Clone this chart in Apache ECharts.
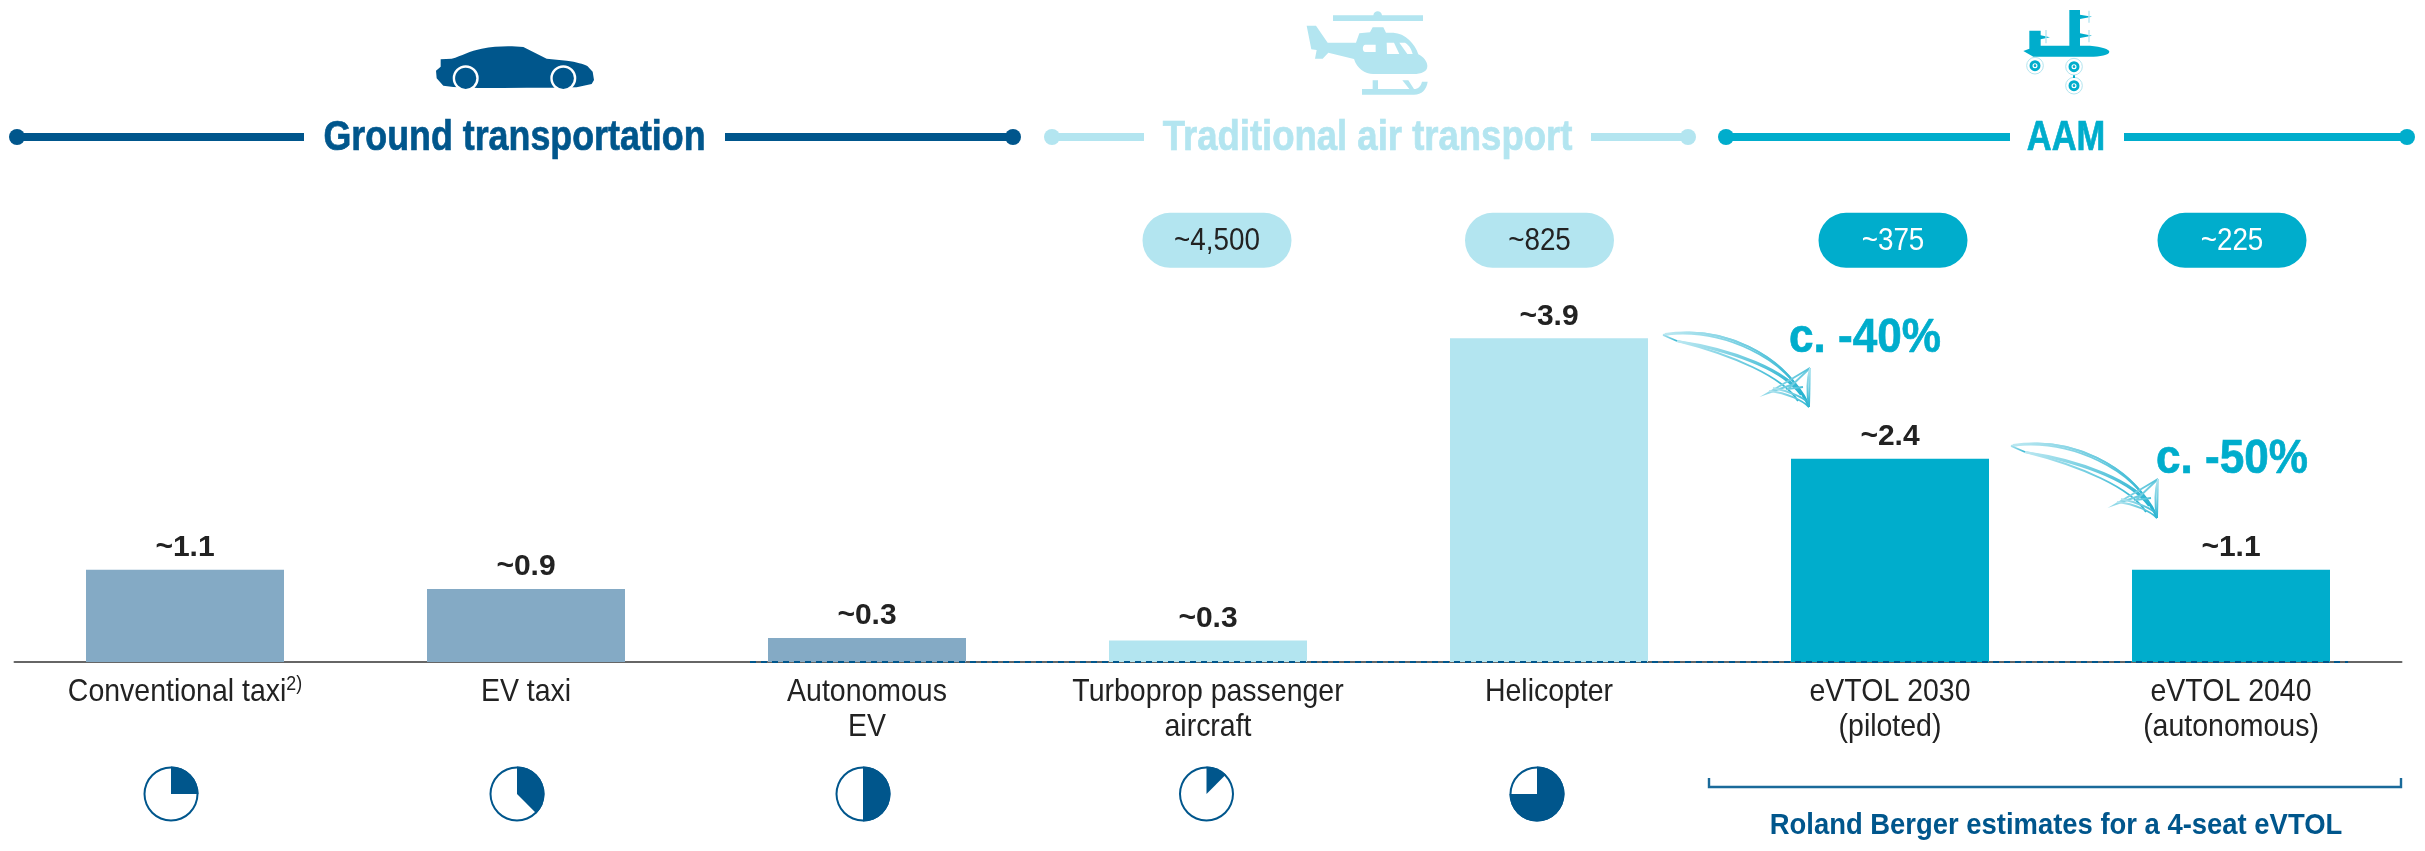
<!DOCTYPE html>
<html><head><meta charset="utf-8">
<style>html,body{margin:0;padding:0;background:#fff}#c{width:2425px;height:851px}</style>
<script src="https://cdn.jsdelivr.net/npm/echarts@6/dist/echarts.min.js"></script>
</head><body><div id="c"></div>
<script>
const categories = ['Conventional taxi{sup|2)}','EV taxi','Autonomous\nEV','Turboprop passenger\naircraft','Helicopter','eVTOL 2030\n(piloted)','eVTOL 2040\n(autonomous)'];
const costValues = [1.11,0.88,0.29,0.26,3.9,2.45,1.11];
const valueLabels = ['~1.1','~0.9','~0.3','~0.3','~3.9','~2.4','~1.1'];
const barGroups = ['ground','ground','ground','air','air','aam','aam'];
const seatLabels = ['~4,500','~825','~375','~225'];
const seatCategoryIndex = [3,4,5,6];
const occupancyShares = [0.25,0.375,0.5,0.125,0.75];
const groupHeaders = ['Ground transportation','Traditional air transport','AAM'];
const reductionLabels = ['c. -40%','c. -50%'];
const bracketNote = 'Roland Berger estimates for a 4-seat eVTOL';

const NAVY='#00568c', LIGHT='#b3e5f0', TEAL='#00adcc', GROUNDBAR='#84aac5', INK='#222222';
const FONT='"Liberation Sans",Arial,sans-serif';
const barColor={ground:GROUNDBAR,air:LIGHT,aam:TEAL};
const PILL_LEVEL=5.08, pillNudge=[9,-9.5,3,1];
const pieCenters=[171,517,863,1206.5,1537];

// The reference uses a condensed face; the installed face is narrowed horizontally.
function squeezed(text,x,y,font,fill,sx,extra){
  return {type:'text',x:x,y:y,scaleX:sx,scaleY:1,
    style:Object.assign({text:text,fill:fill,font:font+' '+FONT,align:'center',verticalAlign:'middle'},extra||{})};
}
function header(text,color,x0,x1,t0,t1,sx,tx){
  const y=137, el=[];
  el.push({type:'rect',shape:{x:x0,y:y-4,width:t0-x0,height:8},style:{fill:color}});
  el.push({type:'rect',shape:{x:t1,y:y-4,width:x1-t1,height:8},style:{fill:color}});
  el.push({type:'circle',shape:{cx:x0,cy:y,r:8},style:{fill:color}});
  el.push({type:'circle',shape:{cx:x1,cy:y,r:8},style:{fill:color}});
  el.push(squeezed(text,tx,y+1.5,'bold 42px',color,sx,{stroke:color,lineWidth:0.7}));
  return el;
}
function arrow(dx,dy){
  const strokes=[
   'M0,0 C60,-12 122,20 146,72','M0,0 C60,-8 124,24 145,68','M2,-1 C60,-9 118,18 142,64','M14,6 C70,14 125,35 141,62','M14,6 C70,20 120,42 135,66','M14,6 C65,16 118,32 138,60',
   'M0,0 L14,6','M147,33 L146,72','M147,33 L125,54 L140,52','M147,33 L105,58 L128,50','M106,56 C125,58 140,66 146,72','M110,53 C125,56 140,62 146,68','M147,33 C143,48 144,60 146,72'
  ];
  return strokes.map(d=>({type:'path',x:1663+dx,y:335+dy,shape:{pathData:d},
    style:{fill:null,stroke:{type:'linear',x:0,y:0,x2:1,y2:1,colorStops:[{offset:0,color:'#bfe9f2'},{offset:1,color:'#22b1cf'}]},lineWidth:1.9}}));
}
function icons(){
  const p=(d,x,fill)=>({type:'path',x:x,y:0,scaleX:1/3,scaleY:1/3,shape:{pathData:d},style:{fill:fill}});
  const car='M122,178 L155,176 C185,168 210,152 245,146 C290,137 335,137 370,141 L440,176 L500,182 C530,186 550,192 562,198 L578,215 L582,240 L575,252 L530,262 C430,264 330,264 235,264 L160,261 L130,257 L110,235 L108,212 L122,200 Z';
  const heli='M50,77 L78,77 L113,128 L198,128 L208,100 L240,97 L248,82 L280,82 L288,98 L310,98 C345,100 375,130 385,163 C400,170 412,185 412,198 C412,215 395,222 370,222 L250,222 C225,222 200,205 192,177 L115,158 L98,176 L75,176 L80,150 L64,148 Z';
  const skid='M216,267 L248,267 L248,241 L264,241 L264,267 L358,267 L337,241 L355,241 L372,267 C385,267 393,258 396,245 L413,245 C410,268 395,284 372,284 L216,284 Z';
  const plane='M70,153 L88,146 L88,92 L122,92 L122,106 L150,112 L122,118 L122,137 L208,137 L208,30 L240,30 L240,44 L276,50 L240,57 L240,100 L276,107 L240,114 L240,137 L270,137 C305,140 328,148 328,155 C328,165 300,170 270,170 L100,170 Z';
  return [
    p(car,400,NAVY),
    {type:'circle',shape:{cx:465.7,cy:78.3,r:11.8},style:{fill:NAVY,stroke:'#fff',lineWidth:2.4}},
    {type:'circle',shape:{cx:563.3,cy:78.3,r:11.8},style:{fill:NAVY,stroke:'#fff',lineWidth:2.4}},
    p('M129,46 H250 C252,30 274,30 276,46 H399 V63 H129 Z',1290,LIGHT),
    p(heli,1290,LIGHT),p(skid,1290,LIGHT),
    p('M226,134 H257 V156 H226 C216,156 216,134 226,134 Z M290,128 H312 L328,162 H291 Z M328,128 H345 C358,135 365,150 368,162 H352 Z',1290,'#fff'),
    p(plane,2000,TEAL),
    p('M136,90 H140 V130 H136 Z M265,32 H269 V68 H265 Z M265,90 H269 V127 H265 Z',2000,LIGHT),
    ...[[105,197],[222,200],[222,257]].flatMap(q=>[
      {type:'circle',x:2000,scaleX:1/3,scaleY:1/3,shape:{cx:q[0],cy:q[1],r:25},style:{fill:'none',stroke:LIGHT,lineWidth:3}},
      {type:'circle',x:2000,scaleX:1/3,scaleY:1/3,shape:{cx:q[0],cy:q[1],r:12},style:{fill:'#fff',stroke:TEAL,lineWidth:9}},
      {type:'circle',x:2000,scaleX:1/3,scaleY:1/3,shape:{cx:q[0],cy:q[1],r:4},style:{fill:TEAL}}
    ]),
    p('M219,226 H225 V234 H219 Z',2000,TEAL)
  ];
}
function decorations(){
  return {type:'group',children:[
    ...icons(),
    ...header(groupHeaders[0],NAVY,17,1013,304,725,0.853,514.5),
    ...header(groupHeaders[1],LIGHT,1052,1688,1144,1591,0.869,1367.5),
    ...header(groupHeaders[2],TEAL,1726,2407,2010,2124,0.82,2066),
    {type:'line',shape:{x1:750,y1:662,x2:2348,y2:662},style:{stroke:NAVY,lineWidth:2,lineDash:[6,5]}},
    ...arrow(0,0),...arrow(348,111),
    squeezed(reductionLabels[0],1865,338,'bold 49px',TEAL,0.9,{stroke:TEAL,lineWidth:0.7}),
    squeezed(reductionLabels[1],2232,459,'bold 49px',TEAL,0.9,{stroke:TEAL,lineWidth:0.7}),
    {type:'polyline',shape:{points:[[1709,778],[1709,787],[2401,787],[2401,778]]},style:{fill:'none',stroke:'#1a6a9a',lineWidth:2.4}},
    squeezed(bracketNote,2056,826,'bold 30px',NAVY,0.914)
  ]};
}
const pies=[];
occupancyShares.forEach((s,i)=>{
  const c=[pieCenters[i],794];
  pies.push({type:'pie',silent:true,animation:false,center:c,radius:[25.5,27.5],label:{show:false},labelLine:{show:false},
    data:[{value:1,itemStyle:{color:NAVY}}],z:3});
  pies.push({type:'pie',silent:true,animation:false,center:c,radius:[0,27.5],startAngle:90,clockwise:true,label:{show:false},labelLine:{show:false},
    data:[{value:s,itemStyle:{color:NAVY}},{value:1-s,itemStyle:{color:'rgba(0,0,0,0)'}}],z:4});
});
const chart=echarts.init(document.getElementById('c'),null,{renderer:'canvas'});
chart.setOption({
  animation:false,backgroundColor:'#fff',
  grid:{left:14.5,width:2387,bottom:189,height:622.5,containLabel:false},
  xAxis:{type:'category',data:categories,axisTick:{show:false},
    axisLine:{lineStyle:{color:'#666',width:2}},axisLabel:{show:false}},
  yAxis:{type:'value',min:0,max:7.5,show:false,splitLine:{show:false}},
  series:[
    {type:'bar',barWidth:198,z:2,
     data:costValues.map((v,i)=>({value:v,itemStyle:{color:barColor[barGroups[i]]}})),
     label:{show:true,position:'top',distance:7,formatter:p=>valueLabels[p.dataIndex],color:INK,fontFamily:FONT,fontWeight:'bold',fontSize:30}},
    {type:'custom',z:3,coordinateSystem:'cartesian2d',silent:true,
     data:categories.map((c,i)=>[i,0]),encode:{x:0,y:1},
     renderItem:(params,api)=>{
       const pt=api.coord([api.value(0),0]);
       return squeezed(categories[params.dataIndex],pt[0],pt[1]+12.5,'32px',INK,0.89,{
         verticalAlign:'top',lineHeight:35,
         rich:{sup:{fontSize:20,fontFamily:FONT,fill:INK,verticalAlign:'top',lineHeight:28}}});
     }},
    {type:'custom',z:3,coordinateSystem:'cartesian2d',silent:true,
     data:seatLabels.map((s,i)=>[seatCategoryIndex[i],PILL_LEVEL,s]),
     encode:{x:0,y:1},
     renderItem:(params,api)=>{
       const i=params.dataIndex,pt=api.coord([api.value(0),api.value(1)]),cx=pt[0]+pillNudge[i],cy=pt[1];
       const dark=barGroups[seatCategoryIndex[i]]==='aam';
       return {type:'group',children:[
         {type:'rect',shape:{x:cx-74.5,y:cy-27.5,width:149,height:55,r:27.5},style:{fill:dark?TEAL:LIGHT}},
         squeezed(seatLabels[i],cx,cy+1,'32px',dark?'#fff':INK,0.87)
       ]};
     }},
    {type:'custom',z:6,coordinateSystem:'none',silent:true,data:[[0]],renderItem:decorations},
    ...pies
  ]
});
</script></body></html>
